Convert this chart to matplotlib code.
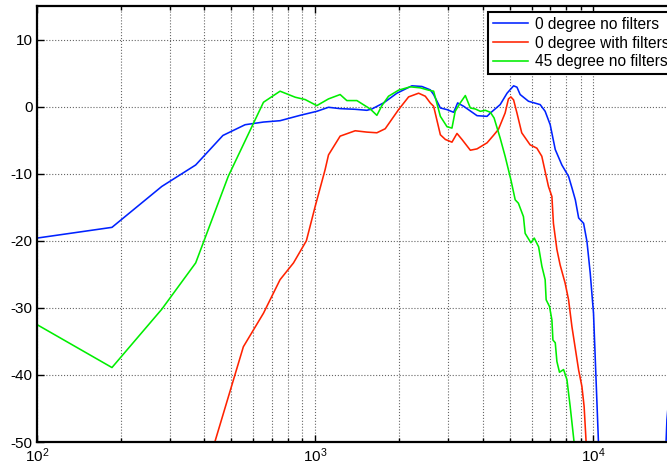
import numpy as np
import matplotlib
matplotlib.use("Agg")
import matplotlib.pyplot as plt
from matplotlib.ticker import LogLocator, LogFormatterMathtext, NullFormatter

plt.rcParams['font.family'] = ['Liberation Sans', 'DejaVu Sans']
plt.rcParams['mathtext.fontset'] = 'custom'
plt.rcParams['mathtext.rm'] = 'Liberation Sans'
plt.rcParams['axes.unicode_minus'] = False

# --- data (Hz, dB) ---
freq_blue = [100, 186, 281, 372, 466, 560, 652, 748, 883, 1014, 1117, 1230, 1393,
             1535, 1600, 1762, 1968, 2228, 2420, 2594, 2667, 2820, 2980, 3148, 3253,
             3419, 3820, 4150, 4267, 4627, 4898, 5170, 5316, 5459, 5848, 6443, 6714,
             7000, 7300, 7710, 8150, 8380, 8620, 8860, 9230, 9490, 9750, 10020, 10440,
             11000, 17500, 18400, 19000]
db_blue = [-19.6, -18.0, -11.9, -8.7, -4.3, -2.7, -2.3, -2.1, -1.3, -0.7, -0.1, -0.3, -0.4,
           -0.55, -0.35, 0.55, 2.0, 3.1, 3.0, 2.5, 1.8, -0.2, -0.45, -0.85, 0.55,
           0.05, -1.35, -1.45, -0.95, 0.3, 2.0, 3.1, 2.9, 1.8, 0.8, 0.3, -0.7,
           -2.7, -6.4, -8.7, -10.4, -12.1, -13.9, -16.6, -17.4, -20.1, -24.8, -30.8, -50.1,
           -70.0, -70.0, -46.7, -40.0]

freq_red = [433, 552, 652, 748, 836, 930, 1000, 1086, 1117, 1230, 1393, 1535, 1667,
            1786, 1995, 2168, 2355, 2489, 2594, 2667, 2820, 2940, 3104, 3236, 3373,
            3614, 3820, 4150, 4375, 4560, 4820, 4955, 5055, 5170, 5316, 5530, 5929,
            6270, 6530, 6900, 7100, 7190, 7400, 7600, 7920, 8150, 8380, 8860, 9100,
            9270, 9430]
db_red = [-50.4, -35.8, -30.8, -25.8, -23.3, -20.0, -14.9, -9.4, -7.2, -4.4, -3.6, -3.8, -3.9,
          -3.3, -0.45, 1.45, 2.0, 1.55, 0.55, 0.05, -4.2, -4.9, -5.3, -4.0, -4.9,
          -6.5, -6.3, -5.4, -4.3, -3.4, -0.95, 1.15, 1.45, 1.0, -0.95, -3.9, -5.7,
          -6.2, -7.4, -11.9, -13.4, -17.4, -21.3, -23.6, -26.3, -28.8, -32.8, -39.3, -41.7,
          -44.7, -50.2]

freq_green = [100, 186, 281, 372, 487, 652, 748, 848, 921, 1014, 1117, 1230, 1300,
              1413, 1578, 1667, 1738, 1836, 1995, 2198, 2388, 2558, 2667, 2820, 2980,
              3104, 3188, 3324, 3467, 3614, 3765, 3926, 4090, 4267, 4400, 4627, 4820,
              5055, 5240, 5380, 5610, 5690, 5966, 6135, 6360, 6535, 6714, 6770, 6960,
              7100, 7160, 7300, 7400, 7560, 7820, 8040, 8260, 8540]
db_green = [-32.5, -38.9, -30.2, -23.3, -10.4, 0.65, 2.3, 1.4, 1.05, 0.15, 1.15, 1.8, 0.9,
            0.9, -0.35, -1.3, 0.15, 1.55, 2.45, 2.95, 2.8, 2.45, 2.3, -1.45, -3.0,
            -3.2, -0.7, 0.55, 1.65, -0.2, -0.35, -0.7, -0.55, -0.85, -1.7, -4.7, -7.4,
            -10.9, -13.9, -14.4, -16.4, -18.9, -20.3, -19.6, -20.9, -23.8, -25.8, -28.8, -29.8,
            -31.8, -34.8, -35.2, -38.0, -39.6, -39.2, -40.7, -44.7, -50.2]

labels = ['0 degree no filters', '0 degree with filters', '45 degree no filters']

fig = plt.figure(figsize=(6.67, 4.70), dpi=100)
# axes runs past the right edge of the picture, as in the reference crop
ax = fig.add_axes([37 / 667, 28 / 470, 640 / 667, 436 / 470])

ax.semilogx(freq_blue, db_blue, color='#0022ff', lw=1.15, label=labels[0])
ax.semilogx(freq_red, db_red, color='#ff2200', lw=1.15, label=labels[1])
ax.semilogx(freq_green, db_green, color='#00ee00', lw=1.15, label=labels[2])

ax.set_xlim(100, 20000)
ax.set_ylim(-50, 15)
ax.set_yticks(np.arange(-50, 11, 10))

ax.xaxis.set_major_locator(LogLocator(base=10))
ax.xaxis.set_major_formatter(LogFormatterMathtext())
ax.xaxis.set_minor_locator(LogLocator(base=10, subs=np.arange(2, 10)))
ax.xaxis.set_minor_formatter(NullFormatter())

ax.grid(True, which='major', linestyle=':', color='0.4', lw=0.8)
ax.grid(True, which='minor', axis='x', linestyle=':', color='0.4', lw=0.8)

ax.tick_params(which='both', direction='in', top=True, right=True, labelsize=11, pad=3)
ax.tick_params(which='major', length=5, width=1)
ax.tick_params(which='minor', length=3, width=1)
for s in ax.spines.values():
    s.set_linewidth(1.6)

leg = ax.legend(loc='upper left', bbox_to_anchor=(488 / 667, 1 - 12 / 470),
                bbox_transform=fig.transFigure, fancybox=False, framealpha=1,
                edgecolor='black', fontsize=11.2, handlelength=2.3,
                borderaxespad=0, labelspacing=0.25, borderpad=0.3, handletextpad=0.45)
leg.get_frame().set_linewidth(1.5)

fig.savefig('out.png', dpi=100)
